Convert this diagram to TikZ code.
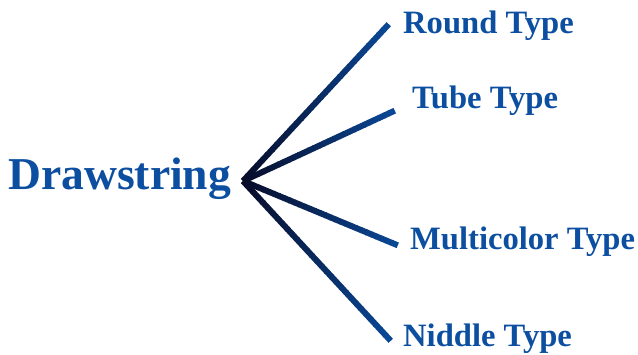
\documentclass[tikz,border=0pt]{standalone}
\usepackage{fontspec}
\setmainfont{Liberation Serif}
\definecolor{txtblue}{RGB}{12,78,160}
\definecolor{linestart}{RGB}{8,12,40}
\definecolor{lineend}{RGB}{10,72,150}
\tikzset{
  label/.style={anchor=base west, inner sep=0pt, text=txtblue, font=\bfseries\fontsize{32.6}{32.6}\selectfont},
  title/.style={anchor=base west, inner sep=0pt, text=txtblue, font=\bfseries\fontsize{45.6}{45.6}\selectfont},
  branch/.style={line width=6pt, line cap=butt}
}
\newcommand{\gradline}[2]{%
  \foreach \i in {0,...,29}{%
    \pgfmathsetmacro{\a}{\i/30}%
    \pgfmathsetmacro{\b}{(\i+1.15)/30}%
    \pgfmathsetmacro{\p}{100*(\i+0.5)/30}%
    \draw[branch, color=lineend!\p!linestart] ($(#1)!\a!(#2)$) -- ($(#1)!\b!(#2)$);
  }%
}
\usetikzlibrary{calc}
\begin{document}
\begin{tikzpicture}[x=1pt,y=-1pt]
\useasboundingbox (0,0) rectangle (638,354);
\coordinate (hub) at (243,181);
\coordinate (e1) at (388,25);
\coordinate (e2) at (394,111);
\coordinate (e3) at (397,245);
\coordinate (e4) at (390,340);
\node[title] (dr) at (8,189) {Drawstring};
\node[label] (t1) at (403,33) {Round Type};
\node[label] (t2) at (412,108) {Tube Type};
\node[label] (t3) at (410,249) {Multicolor Type};
\node[label] (t4) at (403,346) {Niddle Type};
\gradline{hub}{e1}
\gradline{hub}{e2}
\gradline{hub}{e3}
\gradline{hub}{e4}
\end{tikzpicture}
\end{document}
